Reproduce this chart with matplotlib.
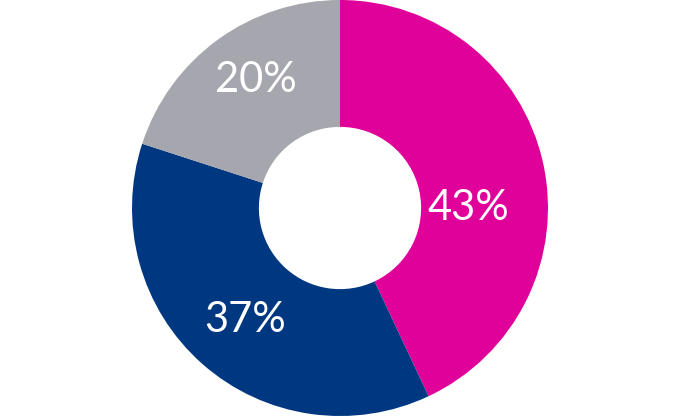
import matplotlib
matplotlib.use("Agg")
from matplotlib import pyplot as plt
import numpy as np

labels = ["43%", "37%", "20%"]
values = [43, 37, 20]
colors = ["#E0009A", "#003781", "#A6A6AE"]

# label spots (radius, angle in degrees)
label_r = [0.615, 0.705, 0.735]
label_ang = [0, 229.7, 123.3]

fig = plt.figure(figsize=(6.8, 4.16), dpi=100)
ax = fig.add_axes([0, 0, 1, 1])
ax.pie(values, colors=colors, startangle=90, counterclock=False, radius=1.0,
       wedgeprops=dict(width=0.61, linewidth=0))

for lab, r, a in zip(labels, label_r, label_ang):
    t = np.deg2rad(a)
    ax.text(r * np.cos(t), r * np.sin(t), lab, color="white", fontsize=30,
            family="Lato", ha="center", va="center")

ax.set_aspect("equal")
ax.set_xlim(-340 / 208, 340 / 208)
ax.set_ylim(-1.0, 1.0)
ax.axis("off")
fig.savefig("out.png", dpi=100)
